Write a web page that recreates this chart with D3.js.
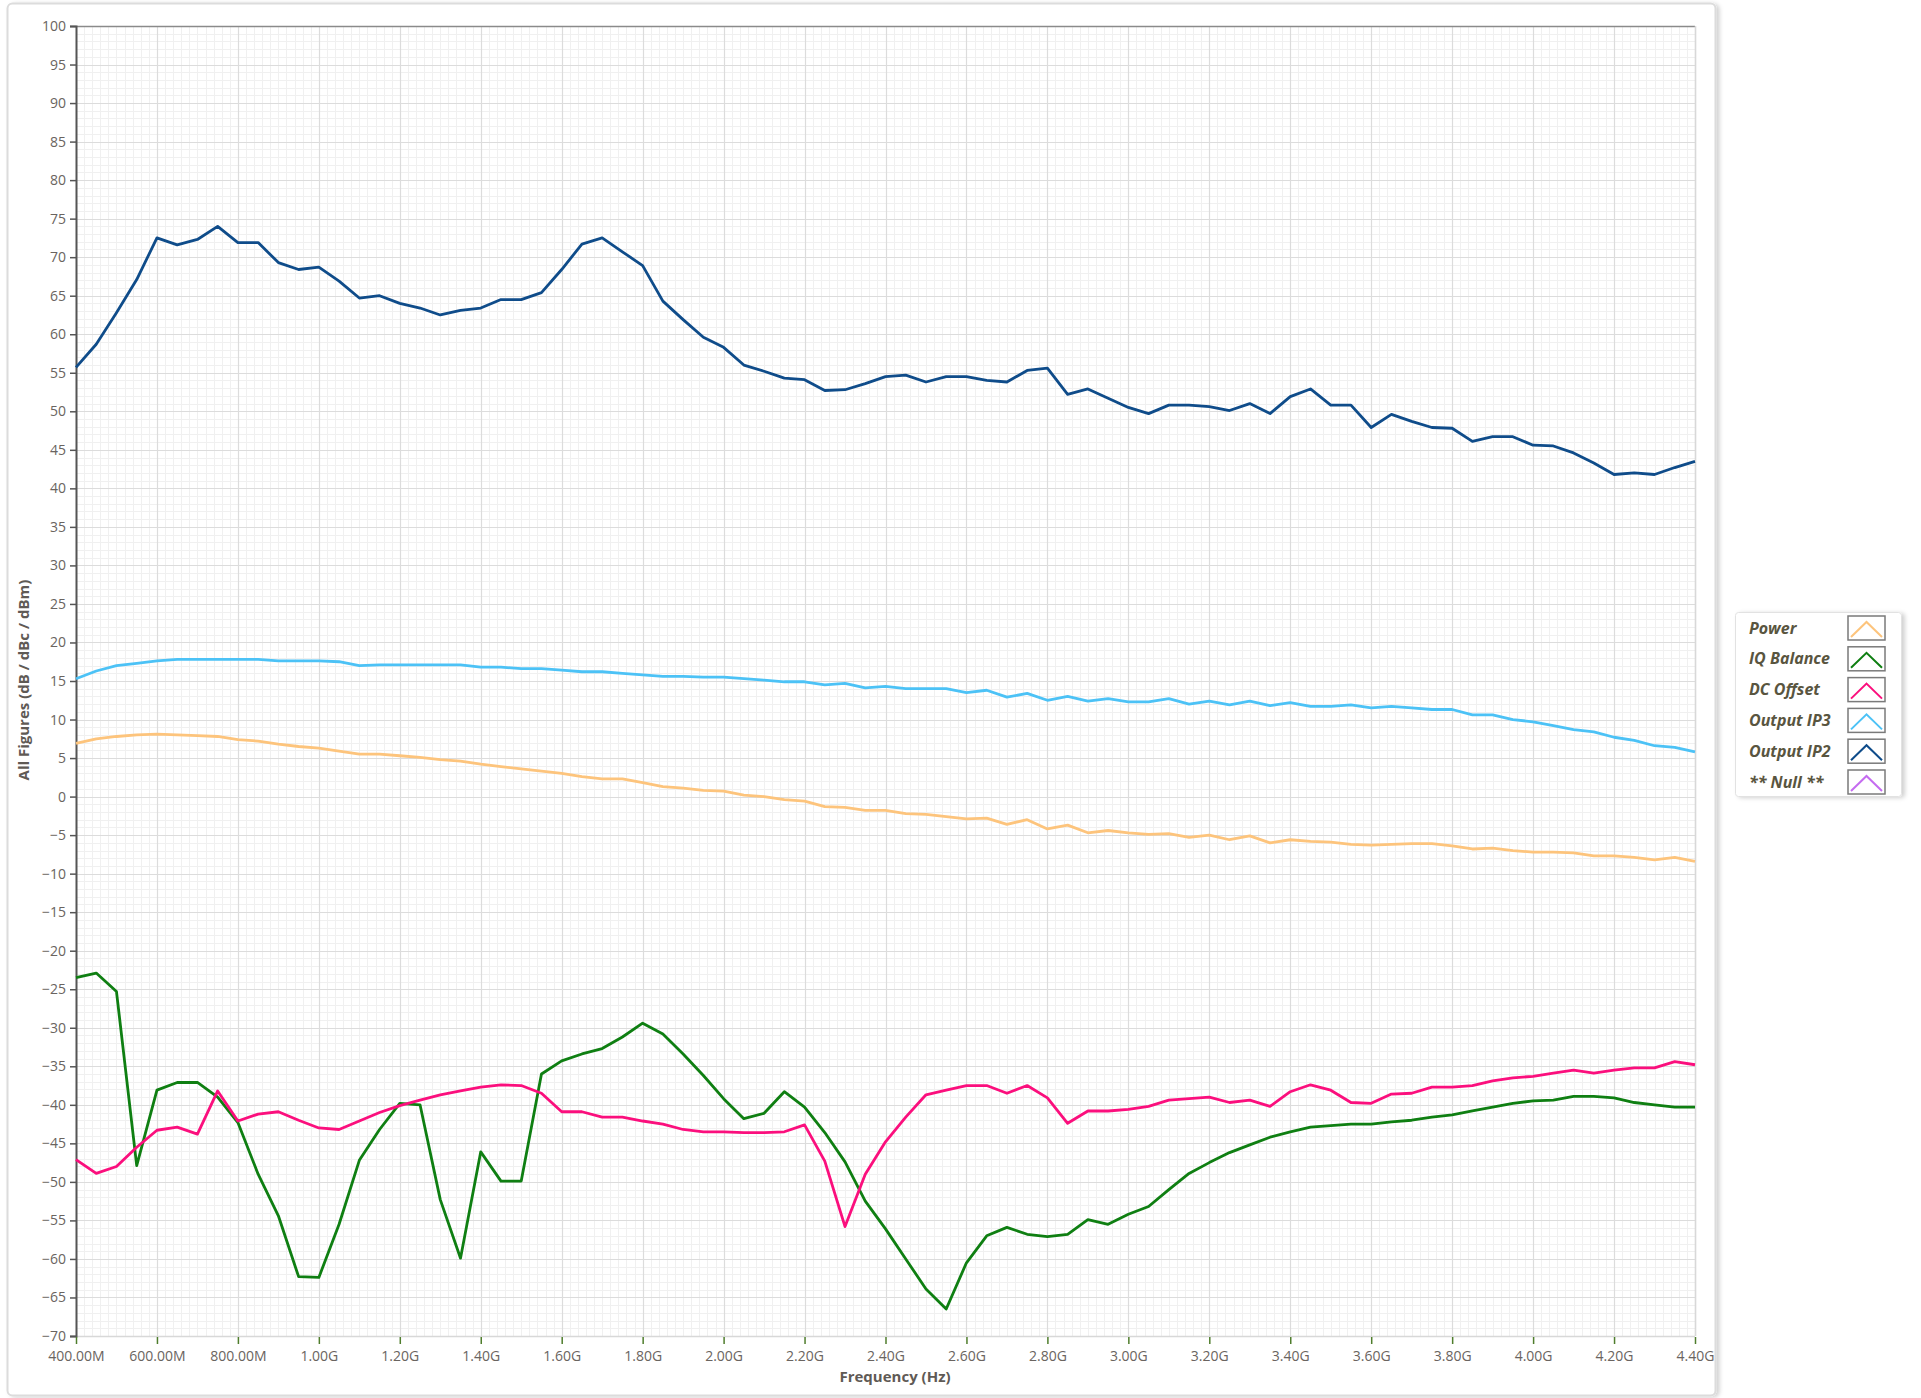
<!DOCTYPE html>
<html>
<head>
<meta charset="utf-8">
<script src="https://cdn.jsdelivr.net/npm/d3@7"></script>
<style>
  html, body { margin: 0; padding: 0; background: #ffffff; }
  svg { display: block; }
</style>
</head>
<body>
<svg id="chart" width="1921" height="1398"></svg>
<script>
// Sweep frequencies (MHz)
const freqMHz = [400, 450, 500, 550, 600, 650, 700, 750, 800, 850, 900, 950, 1000, 1050, 1100, 1150, 1200, 1250, 1300, 1350,
  1400, 1450, 1500, 1550, 1600, 1650, 1700, 1750, 1800, 1850, 1900, 1950, 2000, 2050, 2100, 2150, 2200, 2250, 2300, 2350,
  2400, 2450, 2500, 2550, 2600, 2650, 2700, 2750, 2800, 2850, 2900, 2950, 3000, 3050, 3100, 3150, 3200, 3250, 3300, 3350,
  3400, 3450, 3500, 3550, 3600, 3650, 3700, 3750, 3800, 3850, 3900, 3950, 4000, 4050, 4100, 4150, 4200, 4250, 4300, 4350, 4400];

// Measured figures per frequency
const power = [6.9, 7.5, 7.8, 8.0, 8.1, 8.0, 7.9, 7.8, 7.4, 7.2, 6.8, 6.5, 6.3, 5.9, 5.5, 5.5, 5.3, 5.1, 4.8, 4.6,
  4.2, 3.9, 3.6, 3.3, 3.0, 2.6, 2.3, 2.3, 1.8, 1.3, 1.1, 0.8, 0.7, 0.2, 0.0, -0.4, -0.6, -1.3, -1.4, -1.8,
  -1.8, -2.2, -2.3, -2.6, -2.9, -2.8, -3.6, -3.0, -4.2, -3.7, -4.7, -4.4, -4.7, -4.9, -4.8, -5.3, -5.0, -5.6, -5.1, -6.0,
  -5.6, -5.8, -5.9, -6.2, -6.3, -6.2, -6.1, -6.1, -6.4, -6.8, -6.7, -7.0, -7.2, -7.2, -7.3, -7.7, -7.7, -7.9, -8.2, -7.9, -8.4];

const iqBalance = [-23.5, -22.9, -25.3, -47.9, -38.1, -37.1, -37.1, -39.0, -42.3, -49.0, -54.4, -62.3, -62.4, -55.5, -47.2, -43.2, -39.8, -40.0, -52.3, -59.9,
  -46.1, -49.9, -49.9, -36.0, -34.3, -33.4, -32.7, -31.2, -29.4, -30.8, -33.4, -36.2, -39.2, -41.8, -41.1, -38.3, -40.3, -43.6, -47.4, -52.5,
  -56.1, -60.0, -63.9, -66.5, -60.5, -57.0, -55.9, -56.8, -57.1, -56.8, -54.9, -55.5, -54.2, -53.2, -51.0, -48.9, -47.5, -46.2, -45.2, -44.2,
  -43.5, -42.9, -42.7, -42.5, -42.5, -42.2, -42.0, -41.6, -41.3, -40.8, -40.3, -39.8, -39.5, -39.4, -38.9, -38.9, -39.1, -39.7, -40.0, -40.3, -40.3];

const dcOffset = [-47.1, -48.9, -48.0, -45.5, -43.3, -42.9, -43.8, -38.2, -42.1, -41.2, -40.9, -42.0, -43.0, -43.2, -42.1, -41.0, -40.1, -39.4, -38.7, -38.2,
  -37.7, -37.4, -37.5, -38.5, -40.9, -40.9, -41.6, -41.6, -42.1, -42.5, -43.2, -43.5, -43.5, -43.6, -43.6, -43.5, -42.6, -47.3, -55.8, -49.0,
  -44.8, -41.6, -38.7, -38.1, -37.5, -37.5, -38.5, -37.5, -39.1, -42.4, -40.8, -40.8, -40.6, -40.2, -39.4, -39.2, -39.0, -39.7, -39.4, -40.2,
  -38.3, -37.4, -38.1, -39.7, -39.8, -38.6, -38.5, -37.7, -37.7, -37.5, -36.9, -36.5, -36.3, -35.9, -35.5, -35.9, -35.5, -35.2, -35.2, -34.4, -34.8];

const outputIP3 = [15.3, 16.3, 17.0, 17.3, 17.6, 17.8, 17.8, 17.8, 17.8, 17.8, 17.6, 17.6, 17.6, 17.5, 17.0, 17.1, 17.1, 17.1, 17.1, 17.1,
  16.8, 16.8, 16.6, 16.6, 16.4, 16.2, 16.2, 16.0, 15.8, 15.6, 15.6, 15.5, 15.5, 15.3, 15.1, 14.9, 14.9, 14.5, 14.7, 14.1,
  14.3, 14.0, 14.0, 14.0, 13.5, 13.8, 12.9, 13.4, 12.5, 13.0, 12.4, 12.7, 12.3, 12.3, 12.7, 12.0, 12.4, 11.9, 12.4, 11.8,
  12.2, 11.7, 11.7, 11.9, 11.5, 11.7, 11.5, 11.3, 11.3, 10.6, 10.6, 10.0, 9.7, 9.2, 8.7, 8.4, 7.7, 7.3, 6.6, 6.4, 5.8];

const outputIP2 = [55.7, 58.7, 62.8, 67.1, 72.5, 71.6, 72.3, 74.0, 71.9, 71.9, 69.3, 68.4, 68.7, 66.9, 64.7, 65.0, 64.0, 63.4, 62.5, 63.1,
  63.4, 64.5, 64.5, 65.4, 68.4, 71.7, 72.5, 70.7, 68.9, 64.3, 61.9, 59.6, 58.3, 56.0, 55.2, 54.3, 54.1, 52.7, 52.8, 53.6,
  54.5, 54.7, 53.8, 54.5, 54.5, 54.0, 53.8, 55.3, 55.6, 52.2, 52.9, 51.7, 50.5, 49.7, 50.8, 50.8, 50.6, 50.1, 51.0, 49.7,
  51.9, 52.9, 50.8, 50.8, 47.9, 49.6, 48.7, 47.9, 47.8, 46.1, 46.7, 46.7, 45.6, 45.5, 44.6, 43.3, 41.8, 42.0, 41.8, 42.7, 43.5];

// Legend entries (the last plot has no data)
const seriesNames = ["Power", "IQ Balance", "DC Offset", "Output IP3", "Output IP2", "** Null **"];
const seriesColors = ["#fdc47c", "#0f7f12", "#fb0f7d", "#4cc2f6", "#0f4c8a", "#c56cf0"];
const seriesValues = [power, iqBalance, dcOffset, outputIP3, outputIP2, null];

// Axis ticks
const xTickMHz = [400, 600, 800, 1000, 1200, 1400, 1600, 1800, 2000, 2200, 2400, 2600, 2800, 3000, 3200, 3400, 3600, 3800, 4000, 4200, 4400];
const yTicks = [100, 95, 90, 85, 80, 75, 70, 65, 60, 55, 50, 45, 40, 35, 30, 25, 20, 15, 10, 5, 0, -5, -10, -15, -20, -25, -30, -35, -40, -45, -50, -55, -60, -65, -70];

const svg = d3.select("#chart");
const plot = { left: 76, top: 26, right: 1695, bottom: 1336 };

const x = d3.scaleLinear().domain([400, 4400]).range([plot.left, plot.right]);
const y = d3.scaleLinear().domain([-70, 100]).range([plot.bottom, plot.top]);

const fmtFreq = v => v >= 1000 ? (v / 1000).toFixed(2) + "G" : v.toFixed(2) + "M";
const font = "'Open Sans', 'Segoe UI', sans-serif";

// Panel frame with a soft shadow on the right
const defs = svg.append("defs");
const sh = defs.append("filter").attr("id", "shadow").attr("x", "-5%").attr("y", "-5%").attr("width", "110%").attr("height", "110%");
sh.append("feDropShadow").attr("dx", 3).attr("dy", 1).attr("stdDeviation", 2).attr("flood-color", "#000").attr("flood-opacity", 0.18);

svg.append("rect")
  .attr("x", 7.5).attr("y", 3.5).attr("width", 1708).attr("height", 1392)
  .attr("rx", 5)
  .attr("fill", "#ffffff").attr("stroke", "#dcdcdc").attr("stroke-width", 2)
  .attr("filter", "url(#shadow)");

// Plot background
svg.append("rect")
  .attr("x", plot.left).attr("y", plot.top)
  .attr("width", plot.right - plot.left).attr("height", plot.bottom - plot.top)
  .attr("fill", "#ffffff");

// Minor grid (20 MHz / 1 unit)
const gMinor = svg.append("g").attr("stroke", "#f0f0f0").attr("stroke-width", 1);
gMinor.selectAll("line.vx")
  .data(x.ticks(200).filter(v => v % 200 !== 0))
  .join("line")
  .attr("x1", d => Math.round(x(d)) + 0.5).attr("x2", d => Math.round(x(d)) + 0.5)
  .attr("y1", plot.top).attr("y2", plot.bottom);
gMinor.selectAll("line.hy")
  .data(y.ticks(170).filter(v => v % 5 !== 0))
  .join("line")
  .attr("y1", d => Math.round(y(d)) + 0.5).attr("y2", d => Math.round(y(d)) + 0.5)
  .attr("x1", plot.left).attr("x2", plot.right);

// Major grid
const gMajor = svg.append("g").attr("stroke", "#dcdcdc").attr("stroke-width", 1.2);
gMajor.selectAll("line.vx")
  .data(xTickMHz)
  .join("line")
  .attr("x1", d => Math.round(x(d)) + 0.5).attr("x2", d => Math.round(x(d)) + 0.5)
  .attr("y1", plot.top).attr("y2", plot.bottom);
gMajor.selectAll("line.hy")
  .data(yTicks)
  .join("line")
  .attr("y1", d => Math.round(y(d)) + 0.5).attr("y2", d => Math.round(y(d)) + 0.5)
  .attr("x1", plot.left).attr("x2", plot.right);

// Plot border
svg.append("line").attr("x1", plot.left).attr("x2", plot.right).attr("y1", plot.top + 0.5).attr("y2", plot.top + 0.5)
  .attr("stroke", "#8a8a8a").attr("stroke-width", 1.5);
svg.append("line").attr("x1", plot.right + 0.5).attr("x2", plot.right + 0.5).attr("y1", plot.top).attr("y2", plot.bottom)
  .attr("stroke", "#d8d8d8").attr("stroke-width", 1.5);
svg.append("line").attr("x1", plot.left).attr("x2", plot.right).attr("y1", plot.bottom + 0.5).attr("y2", plot.bottom + 0.5)
  .attr("stroke", "#d8d8d8").attr("stroke-width", 1.5);

// Y axis
const yAxis = d3.axisLeft(y).tickValues(yTicks).tickSize(6).tickPadding(4).tickFormat(d3.format("d"));
const gy = svg.append("g").attr("transform", `translate(${plot.left},0)`).call(yAxis);
gy.select(".domain").attr("stroke", "#555555").attr("stroke-width", 2);
gy.selectAll(".tick line").attr("stroke", "#555555").attr("stroke-width", 1.5);
gy.selectAll(".tick text").attr("fill", "#6a6460").style("font-family", font).style("font-size", "14px");

// X axis
const xAxis = d3.axisBottom(x).tickValues(xTickMHz).tickSize(7).tickPadding(7).tickFormat(fmtFreq);
const gx = svg.append("g").attr("transform", `translate(0,${plot.bottom + 1})`).call(xAxis);
gx.select(".domain").remove();
gx.selectAll(".tick line").attr("stroke", "#4f7d2c").attr("stroke-width", 1.5);
gx.selectAll(".tick text").attr("fill", "#6a6460").style("font-family", font).style("font-size", "14px");

// Axis titles
svg.append("text")
  .attr("x", 895).attr("y", 1382)
  .attr("text-anchor", "middle")
  .attr("fill", "#5f5a55").style("font-family", font).style("font-size", "15px").style("font-weight", "bold")
  .text("Frequency (Hz)");
svg.append("text")
  .attr("transform", `translate(29,680) rotate(-90)`)
  .attr("text-anchor", "middle")
  .attr("fill", "#5f5a55").style("font-family", font).style("font-size", "15px").style("font-weight", "bold")
  .text("All Figures (dB / dBc / dBm)");

// Data lines
const line = d3.line().x((d, i) => x(freqMHz[i])).y(d => y(d));
const gLines = svg.append("g");
seriesValues.forEach((vals, k) => {
  if (!vals) return;
  gLines.append("path")
    .datum(vals)
    .attr("d", line)
    .attr("fill", "none")
    .attr("stroke", seriesColors[k])
    .attr("stroke-width", 2.8)
    .attr("stroke-linejoin", "round");
});

// Legend
const lg = svg.append("g");
lg.append("rect")
  .attr("x", 1735.5).attr("y", 612.5).attr("width", 166).attr("height", 184).attr("rx", 3)
  .attr("fill", "#ffffff").attr("stroke", "#e2e2e2").attr("stroke-width", 1)
  .attr("filter", "url(#shadow)");
const rowH = 30.8;
seriesNames.forEach((name, k) => {
  const cy = 628 + k * rowH;
  lg.append("text")
    .attr("x", 1749).attr("y", cy + 5.5)
    .attr("fill", "#59553f").style("font-family", font).style("font-size", "16px")
    .style("font-weight", "bold").style("font-style", "italic")
    .text(name);
  lg.append("rect")
    .attr("x", 1848).attr("y", cy - 12).attr("width", 37).attr("height", 24)
    .attr("fill", "#ffffff").attr("stroke", "#7a7a7a").attr("stroke-width", 1.5);
  lg.append("polyline")
    .attr("points", `${1851},${cy + 9} ${1866.5},${cy - 6} ${1882},${cy + 9}`)
    .attr("fill", "none").attr("stroke", seriesColors[k]).attr("stroke-width", 2);
});
</script>
</body>
</html>
